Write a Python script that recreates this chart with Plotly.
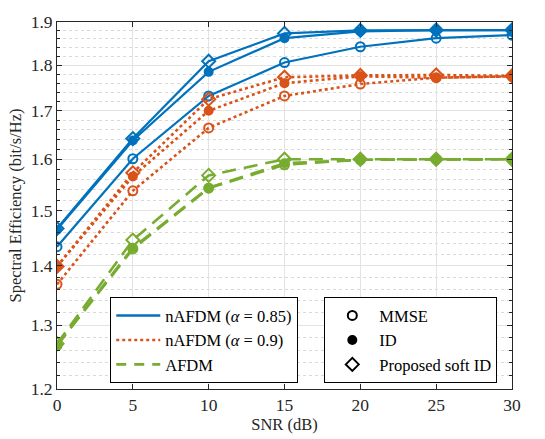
import plotly.graph_objects as go

snr = [0, 5, 10, 15, 20, 25, 30]

# nAFDM (alpha = 0.85)
na85_mmse = [1.434, 1.601, 1.732, 1.806, 1.842, 1.862, 1.869]
na85_id = [1.465, 1.638, 1.785, 1.862, 1.878, 1.881, 1.881]
na85_soft = [1.467, 1.642, 1.809, 1.873, 1.880, 1.881, 1.881]

# nAFDM (alpha = 0.9)
na90_mmse = [1.368, 1.538, 1.664, 1.732, 1.758, 1.772, 1.775]
na90_id = [1.399, 1.566, 1.700, 1.760, 1.775, 1.772, 1.775]
na90_soft = [1.399, 1.573, 1.725, 1.773, 1.777, 1.778, 1.776]

# AFDM
afdm_mmse = [1.267, 1.430, 1.543, 1.589, 1.599, 1.600, 1.600]
afdm_id = [1.268, 1.432, 1.544, 1.592, 1.599, 1.600, 1.600]
afdm_soft = [1.270, 1.446, 1.568, 1.600, 1.600, 1.600, 1.600]

y_ticks = [1.2, 1.3, 1.4, 1.5, 1.6, 1.7, 1.8, 1.9]
y_minor = [round(1.2 + 0.02 * k, 2) for k in range(36)]
y_minor = [v for v in y_minor if round(v * 10, 6) != round(v * 10)]
x_ticks = [0, 5, 10, 15, 20, 25, 30]

BLUE = "#0072BD"
ORANGE = "#D95319"
GREEN = "#77AC30"
FONT = "Liberation Serif"
TXT = "#262626"
LONG_DASH = "14px,8px"

fig = go.Figure()

groups = [
    (BLUE, "solid", 2.2, [na85_mmse, na85_id, na85_soft]),
    (ORANGE, "dot", 2.6, [na90_mmse, na90_id, na90_soft]),
    (GREEN, LONG_DASH, 2.6, [afdm_mmse, afdm_id, afdm_soft]),
]
symbols = [("circle-open", 9), ("circle", 8), ("diamond-open", 10)]

for color, dash, width, series in groups:
    for vals, (sym, size) in zip(series, symbols):
        fig.add_trace(go.Scatter(
            x=snr, y=vals, mode="lines+markers",
            line=dict(color=color, dash=dash, width=width),
            marker=dict(symbol=sym, size=size, color=color,
                        line=dict(color=color, width=2)),
            showlegend=False, hoverinfo="skip",
        ))

# line-style legend
for name, color, dash, width in [
    ("nAFDM (<i>α</i> = 0.85)", BLUE, "solid", 2.6),
    ("nAFDM (<i>α</i> = 0.9)", ORANGE, "dot", 2.6),
    ("AFDM", GREEN, "10px,8px", 2.6),
]:
    fig.add_trace(go.Scatter(
        x=[None], y=[None], mode="lines", name=name,
        line=dict(color=color, dash=dash, width=width), legend="legend",
    ))

# detector legend
for name, sym, size in [("MMSE", "circle-open", 9), ("ID", "circle", 8),
                        ("Proposed soft ID", "diamond-open", 10)]:
    fig.add_trace(go.Scatter(
        x=[None], y=[None], mode="markers", name=name,
        marker=dict(symbol=sym, size=size, color="black",
                    line=dict(color="black", width=2)),
        legend="legend2",
    ))

axis_common = dict(
    showline=True, linecolor=TXT, linewidth=1, mirror="allticks",
    ticks="inside", ticklen=5, tickcolor=TXT,
    tickfont=dict(family=FONT, size=17.5, color=TXT),
    gridcolor="#e3e3e3", gridwidth=1, zeroline=False,
)

legend_common = dict(
    bgcolor="white", bordercolor="black", borderwidth=1,
    font=dict(family=FONT, size=16.5, color="black"),
    xanchor="left", yanchor="top", tracegroupgap=0,
)

fig.update_layout(
    width=545, height=439,
    margin=dict(l=57, r=33, t=17, b=46),
    paper_bgcolor="white", plot_bgcolor="white",
    xaxis=dict(
        range=[0, 30], tickvals=x_ticks,
        title=dict(text="SNR (dB)", font=dict(family=FONT, size=16.5, color=TXT), standoff=0),
        **axis_common,
    ),
    yaxis=dict(
        type="log", range=[0.0791812, 0.2787536], tickvals=y_ticks,
        ticktext=[f"{v:.1f}" for v in y_ticks],
        title=dict(text="Spectral Efficiency (bit/s/Hz)",
                   font=dict(family=FONT, size=16.5, color=TXT), standoff=4),
        minor=dict(tickmode="array", tickvals=y_minor, ticks="inside", ticklen=3,
                   tickcolor=TXT, showgrid=True, gridcolor="#d9d9d9",
                   griddash="dot", gridwidth=1),
        **axis_common,
    ),
    legend=dict(x=0.117, y=0.25, itemwidth=44, **legend_common),
    legend2=dict(x=0.5875, y=0.25, itemwidth=44, **legend_common),
    showlegend=True,
)

fig.write_html("out.html")
